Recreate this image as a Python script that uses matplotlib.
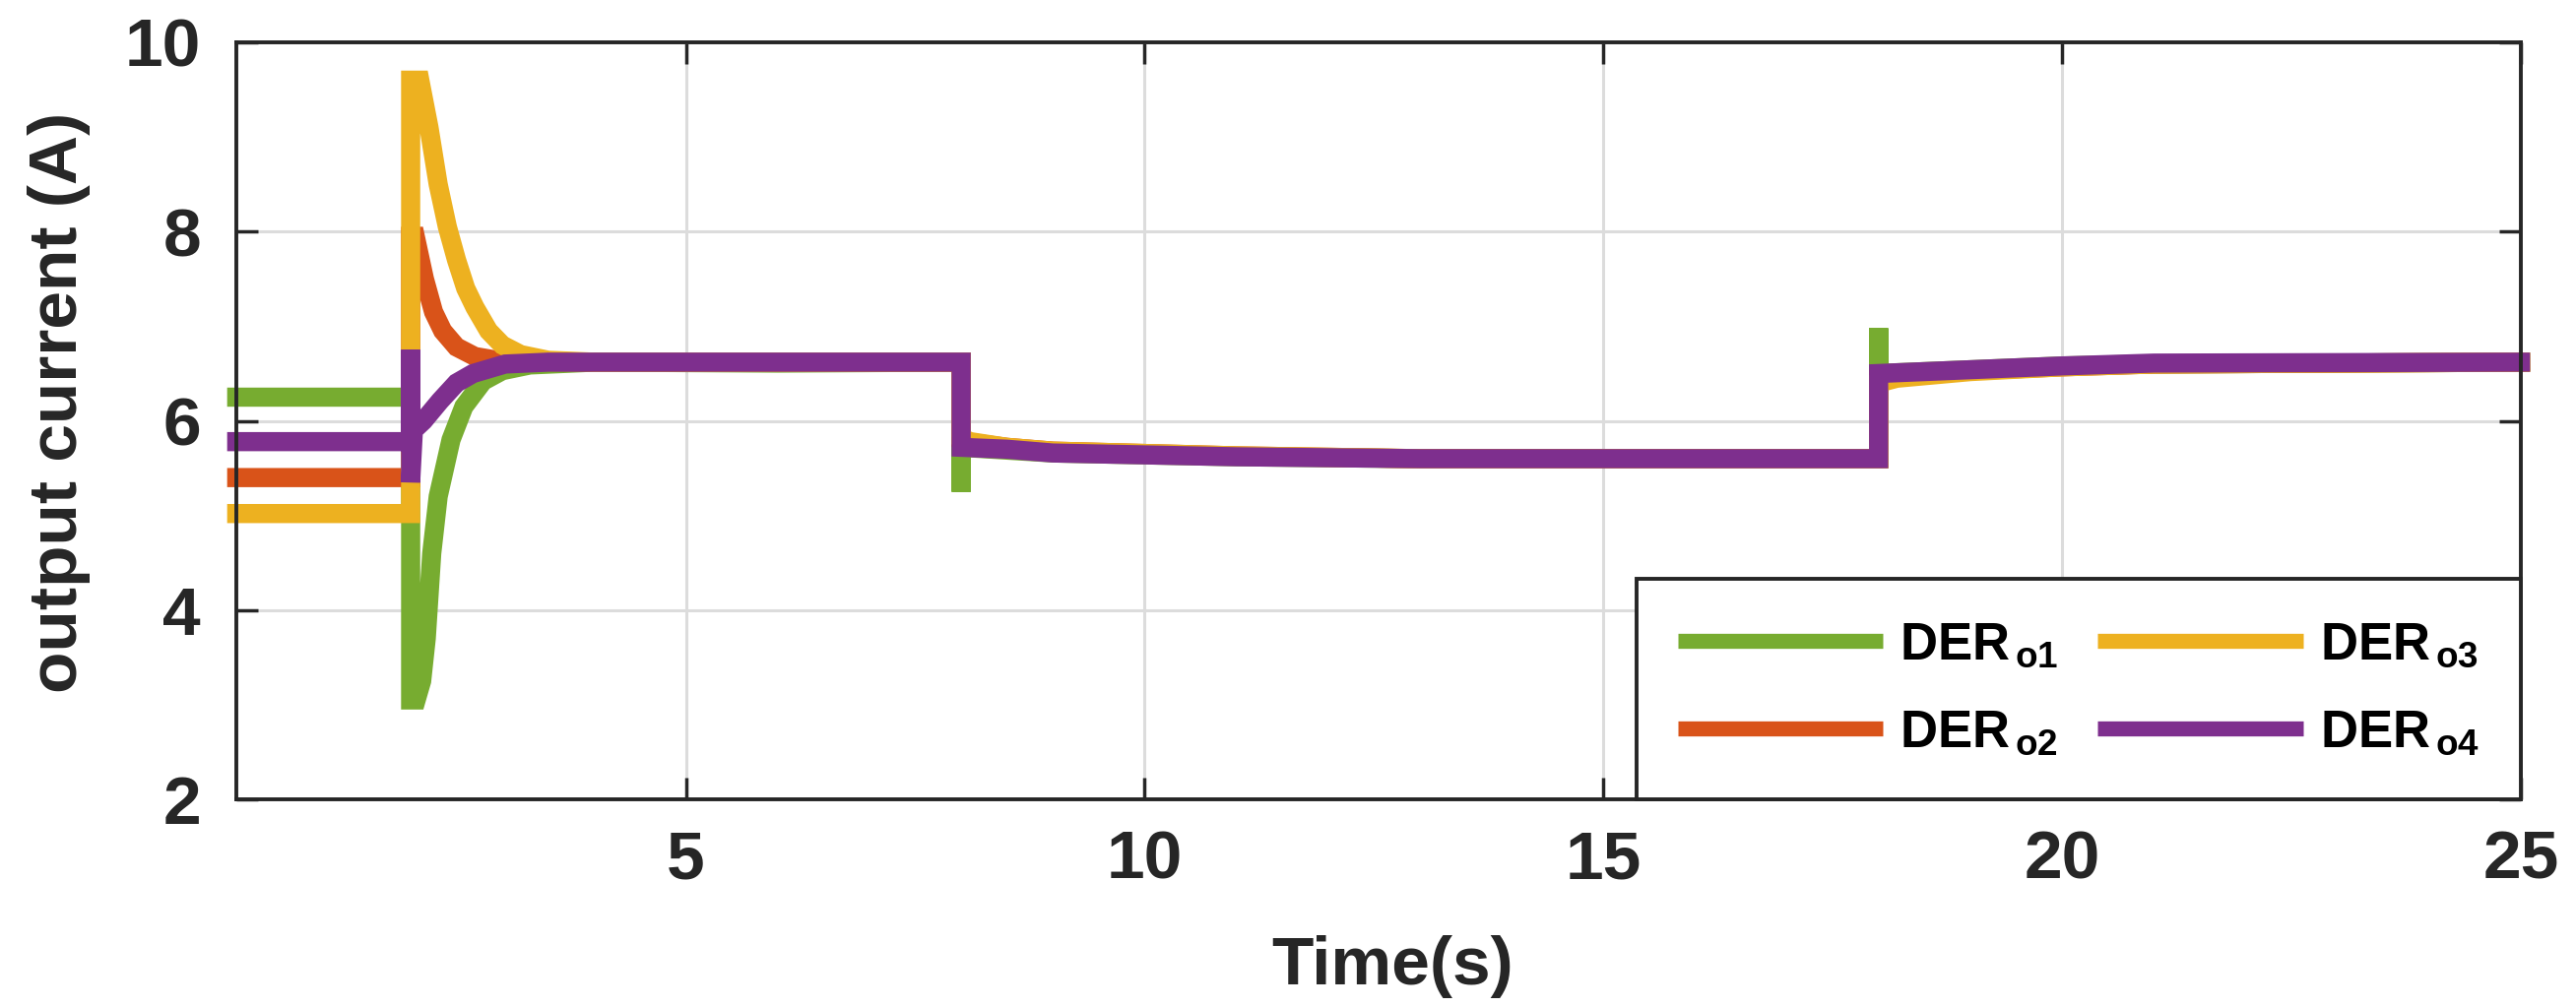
import matplotlib
matplotlib.use('Agg')
import matplotlib.pyplot as plt

# breakpoints (time in s, current in A)
t_o1 = [0.0, 2.0, 2.0, 2.06, 2.12, 2.17, 2.23, 2.3, 2.44, 2.58, 2.79, 3.0, 3.3, 4.0, 6.0,
        8.0, 8.0, 8.0, 9.0, 11.0, 13.0, 18.0, 18.0, 18.0, 19.0, 20.0, 21.0, 25.1]
i_o1 = [6.25, 6.25, 3.05, 3.05, 3.25, 3.7, 4.6, 5.2, 5.8, 6.15, 6.42, 6.53, 6.59, 6.62, 6.61,
        6.62, 5.25, 5.72, 5.66, 5.62, 5.6, 5.6, 6.98, 6.5, 6.54, 6.58, 6.6, 6.62]

t_o2 = [0.0, 2.0, 2.0, 2.05, 2.15, 2.25, 2.35, 2.5, 2.7, 3.0, 4.0,
        8.0, 8.0, 8.1, 8.5, 9.0, 11.0, 13.0, 18.0, 18.0, 18.2, 19.0, 20.0, 21.0, 25.1]
i_o2 = [5.4, 5.4, 7.95, 7.95, 7.5, 7.15, 6.95, 6.78, 6.68, 6.63, 6.62,
        6.62, 5.8, 5.77, 5.72, 5.68, 5.63, 5.6, 5.6, 6.45, 6.48, 6.53, 6.57, 6.6, 6.62]

t_o3 = [0.0, 2.0, 2.0, 2.1, 2.2, 2.3, 2.4, 2.5, 2.6, 2.7, 2.85, 3.0, 3.2, 3.5, 4.0,
        8.0, 8.0, 8.1, 8.5, 9.0, 11.0, 13.0, 18.0, 18.0, 18.2, 19.0, 20.0, 21.0, 25.1]
i_o3 = [5.02, 5.02, 9.6, 9.6, 9.1, 8.5, 8.05, 7.7, 7.4, 7.2, 6.95, 6.8, 6.7, 6.64, 6.62,
        6.62, 5.82, 5.78, 5.72, 5.68, 5.63, 5.6, 5.6, 6.4, 6.45, 6.52, 6.57, 6.6, 6.62]

t_o4 = [0.0, 2.0, 2.0, 2.0, 2.03, 2.14, 2.32, 2.5, 2.68, 3.03, 3.5,
        8.0, 8.0, 8.5, 9.0, 11.0, 13.0, 18.0, 18.0, 19.0, 20.0, 21.0, 25.1]
i_o4 = [5.78, 5.78, 6.75, 5.35, 5.9, 6.0, 6.21, 6.4, 6.5, 6.6, 6.62,
        6.62, 5.72, 5.7, 5.66, 5.62, 5.6, 5.6, 6.5, 6.54, 6.58, 6.61, 6.62]

etiquetas = [r'DER$_{\,\mathregular{o1}}$', r'DER$_{\,\mathregular{o2}}$',
             r'DER$_{\,\mathregular{o3}}$', r'DER$_{\,\mathregular{o4}}$']
colores = ['#77AC30', '#D95319', '#EDB120', '#7E2F8E']

x_ticks = [5, 10, 15, 20, 25]
y_ticks = [2, 4, 6, 8, 10]

plt.rcParams['font.family'] = 'Liberation Sans'
plt.rcParams['mathtext.fontset'] = 'custom'
plt.rcParams['mathtext.rm'] = 'Liberation Sans:bold'
plt.rcParams['mathtext.it'] = 'Liberation Sans:bold'
plt.rcParams['mathtext.bf'] = 'Liberation Sans:bold'

fig = plt.figure(figsize=(26.16, 10.23), dpi=100)
ax = fig.add_axes([240 / 2616, 1 - 812 / 1023, 2320 / 2616, 769 / 1023])

series = [(t_o1, i_o1), (t_o2, i_o2), (t_o3, i_o3), (t_o4, i_o4)]
for (t, i), c, lab in zip(series, colores, etiquetas):
    ax.plot(t, i, color=c, linewidth=14, label=lab, solid_joinstyle='miter',
            solid_capstyle='butt', clip_on=False, zorder=3)

ax.set_xlim(0.1, 25)
ax.set_ylim(2, 10)
ax.set_xticks(x_ticks)
ax.set_yticks(y_ticks)
ax.grid(True, color='#dcdcdc', linewidth=2.2)
ax.set_axisbelow(True)

for s in ax.spines.values():
    s.set_linewidth(2.8)
    s.set_color('#262626')
    s.set_zorder(5)

ax.tick_params(direction='in', length=16, width=2.5, top=True, right=True,
               labelsize=50, pad=26, colors='#262626')
ax.tick_params(axis='x', pad=22)
for lbl in ax.get_xticklabels() + ax.get_yticklabels():
    lbl.set_fontweight('bold')

ax.set_xlabel('Time(s)', fontsize=50, fontweight='bold', color='#262626')
ax.set_ylabel('output current (A)', fontsize=50, fontweight='bold', color='#262626')
ax.xaxis.set_label_coords(0.506, -0.18)
ax.yaxis.set_label_coords(-0.0638, 0.524)

leg = ax.legend(ncol=2, loc='lower right', bbox_to_anchor=(1, 0), borderaxespad=0,
                prop={'size': 38, 'weight': 'bold'}, handlelength=3.95, handletextpad=0.32,
                columnspacing=0.75, labelspacing=0.75, borderpad=0.8, fancybox=False,
                framealpha=1, edgecolor='#262626')
leg.get_frame().set_linewidth(2.8)
leg.set_zorder(6)
for h in leg.get_lines():
    h.set_linewidth(11)

fig.savefig('out.png', dpi=100, facecolor='white')
